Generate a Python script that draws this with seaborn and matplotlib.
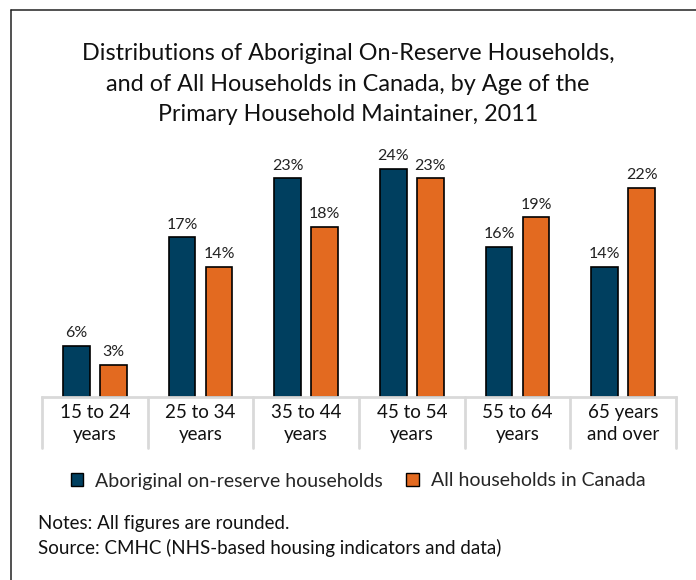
import matplotlib
matplotlib.use("Agg")
import matplotlib.pyplot as plt
from matplotlib.patches import Patch
from matplotlib.lines import Line2D
import pandas as pd
import seaborn as sns

# Data
age_groups = ["15 to 24\nyears", "25 to 34\nyears", "35 to 44\nyears",
              "45 to 54\nyears", "55 to 64\nyears", "65 years\nand over"]
aboriginal = [5.4, 16.8, 23.0, 24.0, 15.8, 13.7]
all_canada = [3.4, 13.7, 17.9, 23.0, 18.9, 22.0]
aboriginal_labels = ["6%", "17%", "23%", "24%", "16%", "14%"]
all_canada_labels = ["3%", "14%", "18%", "23%", "19%", "22%"]
series = ["Aboriginal on-reserve households", "All households in Canada"]

navy = "#003f5f"
orange = "#e36a20"
grid_grey = "#d9d9d9"

df = pd.DataFrame({
    "age": age_groups * 2,
    "share": aboriginal + all_canada,
    "series": [series[0]] * 6 + [series[1]] * 6,
})

sns.set_style("white")
plt.rcParams["font.family"] = ["Lato", "DejaVu Sans"]

fig = plt.figure(figsize=(6.96, 5.8), dpi=100)
ax = fig.add_axes([42 / 696, 1 - 397 / 580, 634 / 696, 237.5 / 580])

sns.barplot(data=df, x="age", y="share", hue="series", palette=[navy, orange],
            saturation=1, width=0.7, gap=0.28, edgecolor="black", linewidth=1.2,
            legend=False, ax=ax)

ax.set_ylim(0, 25)
ax.set_xlim(-0.5, 5.5)

# value labels
for cont, labels in zip(ax.containers, [aboriginal_labels, all_canada_labels]):
    ax.bar_label(cont, labels=labels, padding=4, fontsize=11.5, color="#222222")

for s in ["top", "right", "left"]:
    ax.spines[s].set_visible(False)
ax.spines["bottom"].set_color(grid_grey)
ax.spines["bottom"].set_linewidth(2)
ax.set_yticks([])
ax.set_xlabel("")
ax.set_ylabel("")
ax.tick_params(axis="x", length=0, pad=5, labelsize=13.5, colors="#111111")
for t in ax.get_xticklabels():
    t.set_linespacing(1.35)

# category separators below the axis
trans = ax.get_xaxis_transform()
for xb in [i - 0.5 for i in range(7)]:
    ax.plot([xb, xb], [0, -0.215], transform=trans, color=grid_grey,
            lw=2, clip_on=False)

# title
fig.text(0.5, 1 - 84 / 580,
         "Distributions of Aboriginal On-Reserve Households,\n"
         "and of All Households in Canada, by Age of the\n"
         "Primary Household Maintainer, 2011",
         ha="center", va="center", fontsize=16.8, linespacing=1.55, color="#111111")

# legend
handles = [Patch(facecolor=navy, edgecolor="black", lw=1),
           Patch(facecolor=orange, edgecolor="black", lw=1)]
fig.legend(handles, series, loc="center", bbox_to_anchor=(358 / 696, 1 - 481 / 580),
           ncol=2, frameon=False, fontsize=14, handlelength=0.65, handleheight=0.65,
           handletextpad=0.6, columnspacing=1.2)

# notes
fig.text(38 / 696, 1 - 523 / 580, "Notes: All figures are rounded.",
         ha="left", va="center", fontsize=13.5, color="#111111")
fig.text(38 / 696, 1 - 548 / 580, "Source: CMHC (NHS-based housing indicators and data)",
         ha="left", va="center", fontsize=13.5, color="#111111")

# frame lines (top and left)
fig.add_artist(Line2D([11 / 696, 1], [1 - 10 / 580, 1 - 10 / 580],
                      transform=fig.transFigure, color="#222222", lw=1.1))
fig.add_artist(Line2D([11 / 696, 11 / 696], [0, 1 - 10 / 580],
                      transform=fig.transFigure, color="#222222", lw=1.1))

fig.savefig("out.png", dpi=100)
